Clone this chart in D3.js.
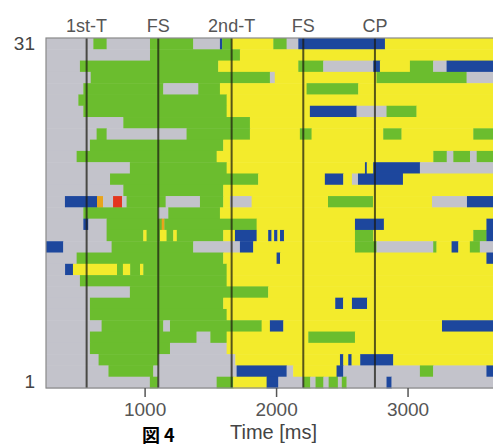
<!DOCTYPE html>
<html>
<head>
<meta charset="utf-8">
<script src="https://cdn.jsdelivr.net/npm/d3@7"></script>
<style>
  body { margin: 0; background: #fff; overflow: hidden; }
  text { font-family: "Liberation Sans", Arial, sans-serif; }
</style>
</head>
<body>
<div id="chart"></div>
<script>
// trial rows, top (31) to bottom (1)
const rowIds = [31, 30, 29, 28, 27, 26, 25, 24, 23, 22, 21, 20, 19, 18, 17, 16,
                15, 14, 13, 12, 11, 10, 9, 8, 7, 6, 5, 4, 3, 2, 1];

// each row: state code + end time (ms), segments start where the previous one ended
const rowSegments = [
  "g610 G711 g1041 G1370 g1573 b1590 G1662 y1979 G2080 g2169 b2828 y3650",
  "g1041 G1725 y3650",
  "g508 G1560 y2169 G2359 g2739 b2790 y3018 G3195 g3297 b3650",
  "g590 G1953 g1990 y2764 G3449 g3650",
  "g534 G1142 g1408 G1573 y2232 G2625 y3650",
  "g496 G1624 y3650",
  "g534 G1624 y2257 b2612 g2840 G3068 y3650",
  "g838 G1801 y3650",
  "g635 G711 g1319 G1801 y2181 G2270 y2815 G2954 y3500 G3650",
  "g584 G1598 y3650",
  "g483 G1548 y3196 G3298 g3348 G3475 g3526 G3650",
  "g888 G1624 y2676 b2690 y2739 b3094 g3650",
  "g737 G1864 y2371 b2511 y2577 g2623 b2965 y3650",
  "g838 G1598 y3650",
  "g394 b638 o684 g760 r828 g863 G1160 g1421 G1598 y1649 g1814 y2395 G2737 y3186 g3452 b3650",
  "g534 G1104 g1180 G1573 y3650",
  "g534 b572 g711 G1130 o1150 G1852 y2600 b2820 y3600 b3650",
  "g711 G990 y1015 G1117 y1167 G1218 y1245 G1598 y1687 b1852 y1940 b1965 y1985 b2010 y2030 b2060 y2600 G2739 y3500 G3600 b3650",
  "b381 g749 G1370 g1725 b1826 y2600 G2764 g3195 G3220 y3335 b3386 y3474 G3550 g3650",
  "g483 G1598 y2004 b2030 y3600 b3650",
  "g395 b455 y790 G835 y890 G965 y990 G1624 y3650",
  "g508 G1624 y3650",
  "g888 G1940 y3650",
  "g584 G1598 y2450 b2510 y2577 b2692 y3650",
  "g584 G1624 y3650",
  "g673 G1142 g1193 G1890 y1953 b2055 y3262 b3650",
  "g584 G1395 g1500 G1624 y2245 G2600 y3650",
  "g584 G1193 g1624 y3650",
  "g650 G1104 g1690 y2486 b2511 y2549 b2574 y2640 b2891 y3650",
  "g725 G1066 g1700 b2080 g2130 y2460 b2511 g3094 G3195 g3600 b3650",
  "g1040 G1100 g1548 G1674 y1928 b2017 g2207 G2260 g2300 G2360 g2400 G2470 g2500 G2536 g2840 b2878 g3650"
];

const stateCodes = ["g", "G", "y", "b", "r", "o"];
const stateColors = ["#c3c3cb", "#6bbd2e", "#f3eb2c", "#1d479d", "#e3361e", "#e8a41c"];

const timeStart = 250;
const timeEnd = 3650;

const eventNames = ["1st-T", "FS", "2nd-T", "FS", "CP"];
const eventTimes = [559, 1104, 1662, 2207, 2752];

const xTicks = [1000, 2000, 3000];
const yTicks = [31, 1];

const width = 493, height = 447;
const margin = { top: 38, right: 0, bottom: 59, left: 46 };

const svg = d3.select("#chart")
    .append("svg")
    .attr("width", width)
    .attr("height", height);

const x = d3.scaleLinear()
    .domain([timeStart, timeEnd])
    .range([margin.left, width - margin.right]);

const y = d3.scaleBand()
    .domain(rowIds)
    .range([margin.top, height - margin.bottom])
    .padding(0);

const color = d3.scaleOrdinal().domain(stateCodes).range(stateColors);

// parse the row strings into segments
const cells = [];
rowSegments.forEach((str, i) => {
    let start = timeStart;
    str.split(" ").forEach(tok => {
        const end = +tok.slice(1);
        cells.push({ row: rowIds[i], state: tok[0], start: start, end: end });
        start = end;
    });
});

const plot = svg.append("g");

plot.selectAll(".cell")
    .data(cells)
    .enter()
    .append("rect")
    .attr("class", "cell")
    .attr("x", d => x(d.start))
    .attr("y", d => y(d.row))
    .attr("width", d => x(d.end) - x(d.start) + 0.4)
    .attr("height", y.bandwidth() + 0.5)
    .attr("fill", d => color(d.state));

// event lines
plot.selectAll(".event")
    .data(eventTimes)
    .enter()
    .append("line")
    .attr("class", "event")
    .attr("x1", d => x(d))
    .attr("x2", d => x(d))
    .attr("y1", margin.top)
    .attr("y2", height - margin.bottom)
    .attr("stroke", "#1a1a10")
    .attr("stroke-opacity", 0.72)
    .attr("stroke-width", 2);

svg.selectAll(".event-label")
    .data(eventNames)
    .enter()
    .append("text")
    .attr("class", "event-label")
    .attr("x", (d, i) => x(eventTimes[i]))
    .attr("y", 32)
    .attr("text-anchor", "middle")
    .style("font-size", "18px")
    .style("fill", "#555")
    .text(d => d);

// frame
svg.append("rect")
    .attr("x", margin.left)
    .attr("y", margin.top)
    .attr("width", width - margin.left + 2)
    .attr("height", height - margin.bottom - margin.top)
    .attr("fill", "none")
    .attr("stroke", "#8a8a8a")
    .attr("stroke-width", 1.2);

const xAxis = d3.axisBottom(x)
    .tickValues(xTicks)
    .tickSize(9)
    .tickPadding(6)
    .tickFormat(d3.format("d"));

const gx = svg.append("g")
    .attr("transform", `translate(0,${height - margin.bottom})`)
    .call(xAxis);
gx.select(".domain").remove();
gx.selectAll("line").attr("stroke", "#555").attr("stroke-width", 1.5);
gx.selectAll("text").style("font-size", "19px").style("fill", "#555");

const yAxis = d3.axisLeft(y)
    .tickValues(yTicks)
    .tickSize(0)
    .tickPadding(11);

const gy = svg.append("g")
    .attr("transform", `translate(${margin.left},0)`)
    .call(yAxis);
gy.select(".domain").remove();
gy.selectAll("text").style("font-size", "19px").style("fill", "#444");

svg.append("text")
    .attr("x", 230)
    .attr("y", 439)
    .style("font-size", "20px")
    .style("fill", "#444")
    .text("Time [ms]");

svg.append("text")
    .attr("x", 142)
    .attr("y", 442)
    .style("font-family", "'Noto Sans CJK JP', sans-serif")
    .style("font-size", "18px")
    .style("font-weight", "bold")
    .style("fill", "#000")
    .text("図 4");
</script>
</body>
</html>
